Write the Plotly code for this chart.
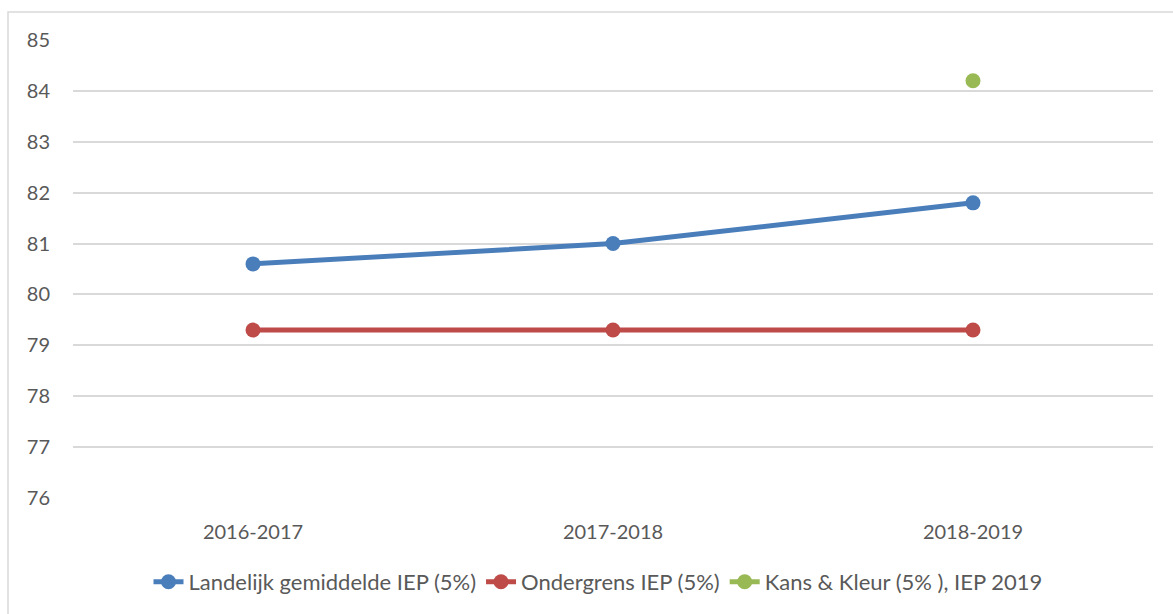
import plotly.graph_objects as go

categories = ["2016-2017", "2017-2018", "2018-2019"]
landelijk = [80.6, 81.0, 81.8]
ondergrens = [79.3, 79.3, 79.3]
kans_kleur = [None, None, 84.2]
names = ["Landelijk gemiddelde IEP (5%)", "Ondergrens IEP (5%)", "Kans & Kleur (5% ), IEP 2019"]
colors = ["#4A7EBB", "#BE4B48", "#98B954"]

W, H = 1173, 614
L, R, T, B = 73, 20, 40, 115
pw, ph = W - L - R, H - T - B

fig = go.Figure()
for vals, name, col in zip([landelijk, ondergrens, kans_kleur], names, colors):
    fig.add_trace(go.Scatter(
        x=categories, y=vals, name=name, mode="lines+markers",
        line=dict(color=col, width=5),
        marker=dict(color=col, size=15),
    ))

fig.update_layout(
    width=W, height=H,
    margin=dict(l=L, r=R, t=T, b=B),
    plot_bgcolor="white", paper_bgcolor="white",
    font=dict(family="Lato, Carlito, Calibri, sans-serif", size=20, color="#595959"),
    xaxis=dict(showgrid=False, showline=False, zeroline=False,
               ticklabelstandoff=20, tickfont=dict(size=20, color="#595959"),
               range=[-0.5, 2.5]),
    yaxis=dict(range=[76, 85], dtick=1, showgrid=True, gridcolor="#D9D9D9", gridwidth=1.5,
               zeroline=False, showline=False, ticklabelstandoff=22,
               tickfont=dict(size=20, color="#595959")),
    legend=dict(orientation="h", x=(598 - L) / pw, xanchor="center",
                y=(H - B - 582) / ph, yanchor="middle",
                font=dict(size=22, color="#595959"), tracegroupgap=0),
    showlegend=True,
    shapes=[dict(type="rect", xref="paper", yref="paper",
                 x0=(8 - L) / pw, x1=(W + 10 - L) / pw,
                 y0=(H - B - (H + 10)) / ph, y1=(H - B - 12) / ph,
                 line=dict(color="#D9D9D9", width=1.5), fillcolor="rgba(0,0,0,0)", layer="below")],
)

fig.write_html("out.html", config={"displayModeBar": False},
               post_script="document.body.style.margin='0';document.body.style.overflow='hidden';")
